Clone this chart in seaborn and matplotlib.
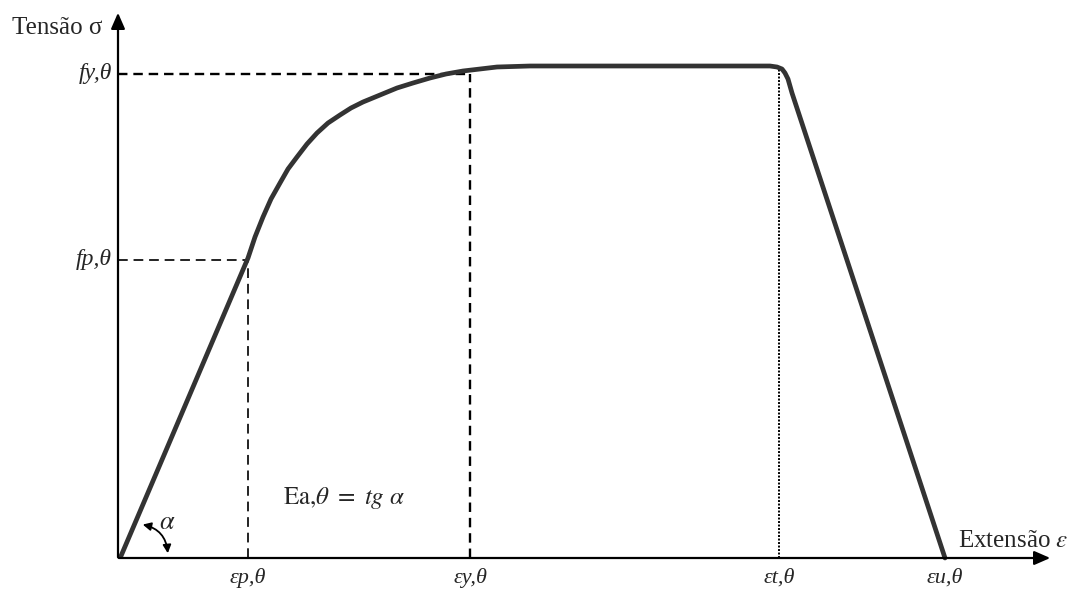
import matplotlib
matplotlib.use("Agg")
import matplotlib.pyplot as plt
import seaborn as sns
import pandas as pd

sns.set_theme(style="white")
plt.rcParams['font.family'] = ['Liberation Serif', 'DejaVu Serif']
plt.rcParams['mathtext.fontset'] = 'stix'

# Stress-strain curve (schematic units)
strain = [3, 130, 137, 145, 153, 162, 170, 179, 189, 199, 210, 222, 233, 245, 262, 279, 295,
          312, 328, 345, 362, 379, 412, 550, 652, 659, 664, 667, 670, 674, 827]
stress = [2, 300, 321, 341, 359, 375, 389, 401, 414, 425, 435, 443, 450, 456, 463, 470, 475,
          480, 484, 487, 489, 491, 492, 492, 492, 491, 489, 485, 479, 465, 0]

eps_p, eps_y, eps_t, eps_u = 130, 352, 661, 827
f_p, f_y = 298, 484
x_ticks = [eps_p, eps_y, eps_t, eps_u]
x_labels = ["εp,θ", "εy,θ", "εt,θ", "εu,θ"]
y_ticks = [f_y, f_p]
y_labels = ["fy,θ", "fp,θ"]

df = pd.DataFrame({"strain": strain, "stress": stress})

fig = plt.figure(figsize=(10.73, 6.0), dpi=100)
ax = fig.add_axes([0, 0, 1, 1])

# axes arrows
ax.annotate("", xy=(0, 548), xytext=(0, -2),
            arrowprops=dict(arrowstyle="-|>,head_length=0.8,head_width=0.35", color="black", lw=1.6))
ax.annotate("", xy=(935, 0), xytext=(-2, 0),
            arrowprops=dict(arrowstyle="-|>,head_length=0.8,head_width=0.35", color="black", lw=1.6))

# guide lines
ax.plot([0, eps_y - 3], [f_y, f_y], ls=(0, (4, 2.5)), color="black", lw=1.7)
ax.plot([0, eps_p], [f_p, f_p], ls=(0, (5, 3)), color="#222222", lw=1.4)
ax.plot([eps_p, eps_p], [0, f_p], ls=(0, (5, 3)), color="#222222", lw=1.4)
ax.plot([eps_y, eps_y], [0, 484], ls=(0, (4, 2.5)), color="black", lw=1.7)
ax.plot([eps_t, eps_t], [0, 489], ls=(0, (1, 0.8)), color="black", lw=1.4)

sns.lineplot(data=df, x="strain", y="stress", sort=False, ax=ax, color="#333333",
             lw=3.4, estimator=None, solid_capstyle="round", solid_joinstyle="round")
ax.set_xlim(-118, 1073 - 118)
ax.set_ylim(558 - 600, 558)
ax.axis("off")

for x, lab in zip(x_ticks, x_labels):
    ax.text(x, -20, lab, ha="center", va="center", fontsize=16, style="italic")
for y, lab in zip(y_ticks, y_labels):
    ax.text(-6, y, lab, ha="right", va="center", fontsize=17, style="italic")

ax.text(-106, 530, "Tensão σ", ha="left", va="center", fontsize=18)
ax.text(840, 17, r"Extensão $\varepsilon$", ha="left", va="center", fontsize=18)
ax.text(165, 60, r"$\mathrm{Ea}{,}\theta\ =\ tg\ \alpha$", ha="left", va="center", fontsize=18)
ax.text(49, 35, r"$\alpha$", ha="center", va="center", fontsize=19)
ax.annotate("", xy=(50, 2), xytext=(22, 34),
            arrowprops=dict(arrowstyle="<|-|>,head_length=0.4,head_width=0.2", color="black", lw=1.3,
                            connectionstyle="arc3,rad=-0.4"))

fig.savefig("out.png", dpi=100)
